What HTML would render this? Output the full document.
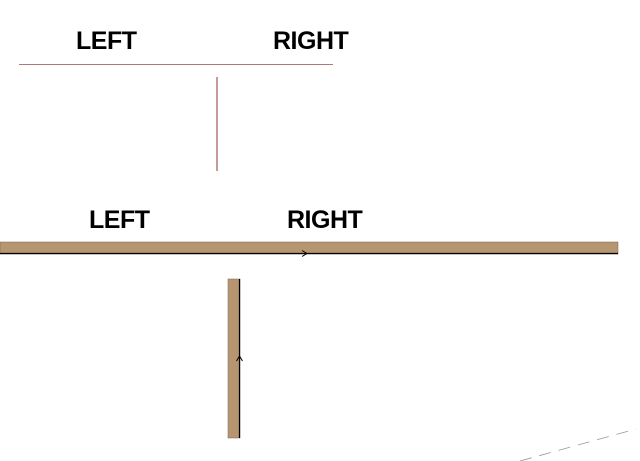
<!DOCTYPE html>
<html><head><style>
body{margin:0;background:#fff;width:640px;height:461px;overflow:hidden;position:relative;font-family:"Liberation Sans",sans-serif}
.t{position:absolute;font-weight:bold;font-size:25px;color:#000;line-height:1;letter-spacing:-0.5px}
</style></head><body>
<div class="t" style="left:76px;top:29px">LEFT</div>
<div class="t" style="left:273px;top:29px">RIGHT</div>
<div class="t" style="left:89px;top:208px">LEFT</div>
<div class="t" style="left:287px;top:208px">RIGHT</div>
<svg width="640" height="461" style="position:absolute;left:0;top:0">
<line x1="19" y1="64.5" x2="333" y2="64.5" stroke="#b07878" stroke-width="1"/>
<line x1="217" y1="77" x2="217" y2="171" stroke="#b07878" stroke-width="1.5"/>
<rect x="0" y="242" width="618" height="12" fill="#b69571" stroke="#7a6450" stroke-width="0.5"/>
<line x1="0" y1="253.5" x2="618" y2="253.5" stroke="#000" stroke-width="1.2"/>
<path d="M302 250.5 L307 253.5 L302 256.5" fill="none" stroke="#000" stroke-width="1"/>
<rect x="228" y="279" width="12" height="159" fill="#b69571" stroke="#7a6450" stroke-width="0.5"/>
<line x1="239.5" y1="279" x2="239.5" y2="438" stroke="#000" stroke-width="1.2"/>
<path d="M236.5 361 L239.5 356 L242.5 361" fill="none" stroke="#000" stroke-width="1"/>
<line x1="520" y1="461" x2="636" y2="429" stroke="#999" stroke-width="0.8" stroke-dasharray="12,8"/>
</svg>
</body></html>
